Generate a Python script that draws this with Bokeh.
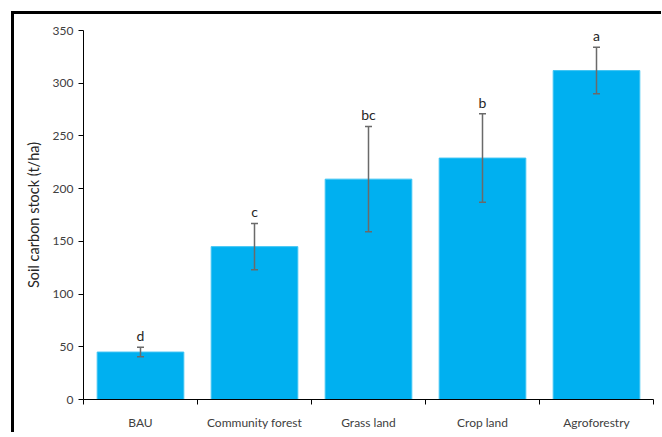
from bokeh.plotting import figure
from bokeh.layouts import column, row
from bokeh.models import ColumnDataSource, FixedTicker, Whisker, TeeHead, Range1d, Div, Spacer
from bokeh.core.properties import value
from bokeh.embed import file_html
from bokeh.resources import INLINE

categories = ["BAU", "Community forest", "Grass land", "Crop land", "Agroforestry"]
means = [45, 145, 209, 229, 312]
errors = [4.5, 22, 50, 42, 22]
letters = ["d", "c", "bc", "b", "a"]
y_ticks = [0, 50, 100, 150, 200, 250, 300, 350]

xs = [i + 0.5 for i in range(len(categories))]
source = ColumnDataSource(dict(
    x=xs, top=means,
    upper=[m + e for m, e in zip(means, errors)],
    lower=[m - e for m, e in zip(means, errors)],
    letter=letters,
))

FONT = "Lato"
W, H = 647, 418
p = figure(width=W, height=H, output_backend="svg", toolbar_location=None,
           x_range=Range1d(0, len(categories)), y_range=Range1d(0, 350),
           min_border_left=69, min_border_right=8, min_border_top=16, min_border_bottom=26)
p.margin = 0
p.outline_line_color = None
p.xgrid.visible = False
p.ygrid.visible = False

p.vbar(x="x", top="top", width=0.76, source=source, fill_color="#00B0F0",
       line_color="#3fc4f3", line_width=1)

w = Whisker(base="x", upper="upper", lower="lower", source=source, level="overlay",
            line_color="#6a6a6a", line_width=1.5,
            upper_head=TeeHead(size=7, line_color="#6a6a6a", line_width=1.5),
            lower_head=TeeHead(size=7, line_color="#6a6a6a", line_width=1.5))
p.add_layout(w)

p.text(x="x", y="upper", text="letter", source=source, text_align="center",
       text_baseline="bottom", y_offset=-3, text_font=value(FONT),
       text_font_size="14px", text_color="#262626")

p.xaxis.ticker = FixedTicker(ticks=xs, minor_ticks=list(range(len(categories) + 1)))
p.xaxis.major_label_overrides = {x: c for x, c in zip(xs, categories)}
p.xaxis.major_tick_line_color = None
p.xaxis.major_tick_out = 0
p.xaxis.major_tick_in = 0
p.xaxis.minor_tick_line_color = "black"
p.xaxis.minor_tick_out = 5
p.xaxis.minor_tick_in = 0
p.xaxis.axis_line_color = "black"
p.xaxis.major_label_text_font = FONT
p.xaxis.major_label_text_font_size = "12px"
p.xaxis.major_label_text_color = "#404040"
p.xaxis.major_label_standoff = 10

p.yaxis.ticker = FixedTicker(ticks=y_ticks, minor_ticks=[])
p.yaxis.axis_line_color = "black"
p.yaxis.major_tick_line_color = "black"
p.yaxis.major_tick_out = 5
p.yaxis.major_tick_in = 0
p.yaxis.major_label_text_font = FONT
p.yaxis.major_label_text_font_size = "12px"
p.yaxis.major_label_text_color = "#404040"
p.yaxis.major_label_standoff = 5
p.yaxis.axis_label = "Soil carbon stock (t/ha)"
p.yaxis.axis_label_text_font = FONT
p.yaxis.axis_label_text_font_style = "normal"
p.yaxis.axis_label_text_font_size = "14.5px"
p.yaxis.axis_label_text_color = "#262626"
p.yaxis.axis_label_standoff = 8

top_border = Div(text="", width=W + 3, height=3, margin=0,
                 styles={"background-color": "black"})
left_border = Div(text="", width=3, height=H, margin=0,
                  styles={"background-color": "black"})
layout = column(
    Spacer(height=11, margin=0),
    row(Spacer(width=11, margin=0), top_border, spacing=0, margin=0),
    row(Spacer(width=11, margin=0), left_border, p, spacing=0, margin=0),
    spacing=0, margin=0,
)

open("out.html", "w").write(file_html(layout, INLINE))
